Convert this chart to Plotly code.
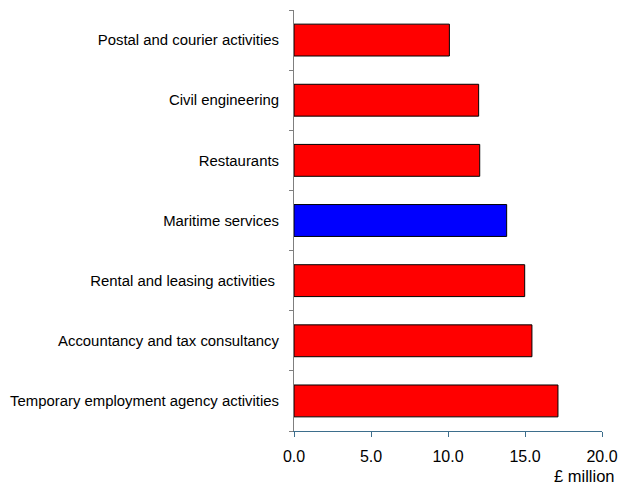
import plotly.graph_objects as go

categories = [
    "Temporary employment agency activities",
    "Accountancy and tax consultancy",
    "Rental and leasing activities ",
    "Maritime services",
    "Restaurants",
    "Civil engineering",
    "Postal and courier activities",
]
values = [17.14, 15.45, 14.98, 13.81, 12.06, 11.99, 10.09]
colors = ["#FF0000", "#FF0000", "#FF0000", "#0000FF", "#FF0000", "#FF0000", "#FF0000"]
x_ticks = [0, 5, 10, 15, 20]
x_tick_labels = ["0.0", "5.0", "10.0", "15.0", "20.0"]
unit_label = "£ million"

fig = go.Figure(
    go.Bar(
        x=values,
        y=categories,
        orientation="h",
        marker=dict(color=colors, line=dict(color="#000000", width=1)),
        hoverinfo="x+y",
    )
)

fig.update_layout(
    width=619,
    height=486,
    margin=dict(l=294, r=17, t=10, b=55, autoexpand=False),
    paper_bgcolor="white",
    plot_bgcolor="white",
    bargap=0.47,
    showlegend=False,
    font=dict(family="Liberation Sans, Arial, sans-serif", color="#000000"),
    xaxis=dict(
        range=[0, 20],
        tickmode="array",
        tickvals=x_ticks,
        ticktext=x_tick_labels,
        showgrid=False,
        zeroline=False,
        showline=True,
        linecolor="#3D6E8C",
        linewidth=1,
        ticks="outside",
        ticklen=5,
        tickcolor="#3D6E8C",
        tickfont=dict(size=16),
        ticklabelstandoff=6,
    ),
    yaxis=dict(
        type="category",
        categoryorder="array",
        categoryarray=categories,
        showgrid=False,
        zeroline=False,
        showline=True,
        linecolor="#7F7F7F",
        linewidth=1,
        ticks="outside",
        tickson="boundaries",
        ticklen=4,
        tickcolor="#7F7F7F",
        tickfont=dict(size=14.9),
        ticklabelstandoff=11,
    ),
    annotations=[
        dict(
            text=unit_label,
            xref="paper",
            yref="paper",
            x=1.05,
            y=-0.108,
            xanchor="right",
            yanchor="middle",
            showarrow=False,
            font=dict(size=16.5),
        )
    ],
)

fig.write_html(
    "out.html",
    config={"displayModeBar": False},
    post_script="document.body.style.margin='0';document.body.style.overflow='hidden';",
)
